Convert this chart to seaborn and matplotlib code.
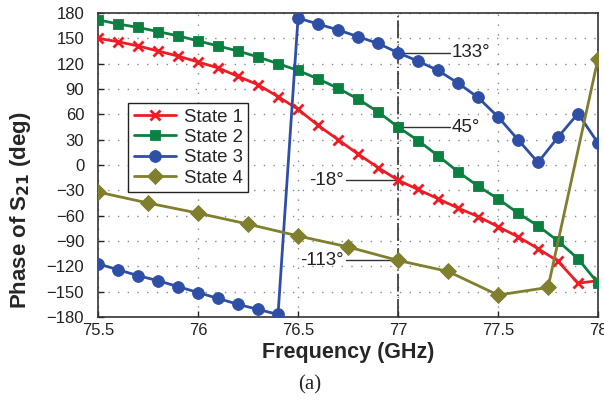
import numpy as np
import pandas as pd
import seaborn as sns
import matplotlib
matplotlib.use("Agg")
import matplotlib.pyplot as plt

# Frequency grids (GHz)
freq_fine = [75.5, 75.6, 75.7, 75.8, 75.9, 76.0, 76.1, 76.2, 76.3, 76.4, 76.5, 76.6, 76.7,
             76.8, 76.9, 77.0, 77.1, 77.2, 77.3, 77.4, 77.5, 77.6, 77.7, 77.8, 77.9, 78.0]
freq_coarse = [75.5, 75.75, 76.0, 76.25, 76.5, 76.75, 77.0, 77.25, 77.5, 77.75, 78.0]

# Phase of S21 (deg) per state
state1 = [150, 146, 141, 135, 129, 122, 115, 105, 95, 81, 66, 47, 30,
          13, -3, -18, -29, -40, -51, -61, -73, -85, -99, -114, -140, -137]
state2 = [172, 167, 163, 158, 153, 147, 141, 135, 128, 120, 112, 102, 91,
          78, 63, 45, 29, 11, -8, -25, -40, -57, -72, -90, -111, -140]
state3 = [-117, -124, -131, -137, -144, -151, -158, -165, -171, -177, 174, 167, 160,
          152, 144, 133, 123, 112, 97, 80, 57, 30, 3, 33, 61, 26]
state4 = [-32, -45, -57, -70, -84, -97, -113, -126, -154, -145, 126]

state_names = ["State 1", "State 2", "State 3", "State 4"]
colors = ["#ee1c25", "#0b8040", "#2e4fa5", "#7f7f2e"]
markers = ["x", "s", "o", "D"]
marker_sizes = [6.5, 7.5, 8.5, 8.0]

# Annotated values at 77 GHz
marker_freq = 77.0
notes = [("133°", 133, "right"), ("45°", 45, "right"), ("-18°", -18, "left"), ("-113°", -113, "left")]

sns.set_style("ticks")
plt.rcParams["font.family"] = ["Liberation Sans", "DejaVu Sans"]

fig = plt.figure(figsize=(6.04, 4.03), dpi=100)
ax = fig.add_axes([0.1623, 0.2134, 0.8278, 0.7543])

series = zip(state_names, [freq_fine, freq_fine, freq_fine, freq_coarse],
             [state1, state2, state3, state4], colors, markers, marker_sizes)
for name, f, v, c, m, ms in series:
    d = pd.DataFrame({"Frequency": f, "Phase": v})
    mew = 2.0 if m == "x" else 0.6
    sns.lineplot(data=d, x="Frequency", y="Phase", color=c, marker=m, lw=2.0,
                 markersize=ms, markeredgewidth=mew, markeredgecolor=c,
                 sort=False, estimator=None, label=name, ax=ax, zorder=3)

ax.set_xlim(75.5, 78.0)
ax.set_ylim(-180, 180)
ax.set_xticks([75.5, 76.0, 76.5, 77.0, 77.5, 78.0])
ax.set_xticklabels(["75.5", "76", "76.5", "77", "77.5", "78"])
ax.set_yticks(np.arange(-180, 181, 30))
ax.set_yticklabels([str(v).replace("-", "\u2212") for v in np.arange(-180, 181, 30)])
ax.tick_params(labelsize=12, direction="in", length=4, width=1, colors="#222222")
ax.tick_params(axis="y", pad=10)
ax.tick_params(axis="x", pad=4)
ax.grid(True, linestyle=(0, (1, 6)), color="#8a8a8a", linewidth=1.0)
for s in ax.spines.values():
    s.set_visible(True)
    s.set_color("#333333")
    s.set_linewidth(1.2)

ax.axvline(marker_freq, color="#333333", linestyle=(0, (10.8, 1.8, 0.8, 1.8)), lw=1.2, zorder=2)

ax.set_xlabel("Frequency (GHz)", fontsize=15.5, fontweight="bold", labelpad=3)
ax.set_ylabel("Phase of S$_{\\mathbf{21}}$ (deg)", fontsize=16, fontweight="bold")
ax.yaxis.set_label_coords(-0.13, 0.35)

for text, val, side in notes:
    if side == "right":
        ax.plot([marker_freq, marker_freq + 0.26], [val, val], color="#333333", lw=1.0, zorder=2)
        ax.text(marker_freq + 0.27, val, text, fontsize=13.5, va="center", ha="left", color="#222222")
    else:
        ax.plot([marker_freq - 0.26, marker_freq], [val, val], color="#333333", lw=1.0, zorder=2)
        ax.text(marker_freq - 0.27, val, text, fontsize=13.5, va="center", ha="right", color="#222222")

leg = ax.legend(loc="upper left", bbox_to_anchor=(0.06, 0.704), fontsize=13.4,
                frameon=True, fancybox=False, edgecolor="#222222", framealpha=1,
                handlelength=2.3, borderpad=0.3, labelspacing=0.18, handletextpad=0.4,
                borderaxespad=0)
leg.get_frame().set_linewidth(1.0)

fig.text(0.512, 0.045, "(a)", fontsize=15, ha="center", va="center",
         family=["Liberation Serif", "DejaVu Serif"])

fig.savefig("out.png", dpi=100)
